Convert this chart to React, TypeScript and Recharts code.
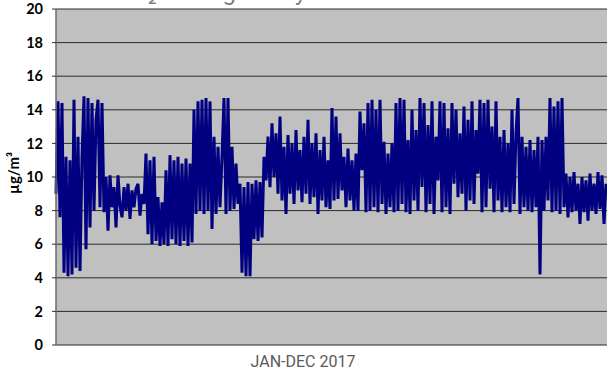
import React from 'react';
import { LineChart, Line, XAxis, YAxis, CartesianGrid } from 'recharts';

// Hourly concentration trace (Jan–Dec 2017), split by quarter
const q1Values = [
  9.0, 14.5, 7.6, 14.4, 4.3, 11.2, 4.1, 11.0, 4.2, 14.6,
  4.6, 12.4, 4.4, 11.2, 14.8, 5.7, 14.7, 7.0, 14.4, 8.0,
  13.4, 14.6, 8.2, 14.4, 7.9, 10.0, 6.8, 10.1, 8.2, 9.4,
  7.0, 10.1, 8.3, 7.6, 9.4, 8.0, 9.6, 7.5, 9.2, 8.2,
  9.3, 9.6, 7.7, 9.0, 8.4, 11.4, 6.6, 11.0, 6.0, 11.2,
  6.2, 8.8, 5.9, 8.5, 6.0, 10.4, 5.9, 11.3, 6.3, 11.0,
  6.0, 11.2, 5.9, 10.8, 6.2, 11.1, 5.9, 10.8, 6.1,
];
const q2Values = [
  14.0, 7.8, 14.5, 8.0, 14.6, 7.8, 14.7, 8.0, 14.5, 6.9,
  12.4, 7.8, 11.8, 8.2, 11.2, 14.7, 7.8, 14.7, 8.0, 11.8,
  8.1, 10.8, 8.4, 9.6, 4.3, 9.4, 4.1, 9.7, 4.1, 9.6,
  6.3, 9.8, 6.2, 9.7, 6.4, 11.2, 9.8, 12.4, 9.4, 13.2,
  10.0, 12.6, 9.0, 13.6, 8.6, 11.8, 7.8, 12.5, 9.0, 12.0,
  8.4, 12.8, 9.2, 11.6, 8.5, 12.4, 9.0, 13.4, 8.4, 12.0,
  8.8, 12.6, 7.8, 11.6, 8.6, 12.4, 8.2, 11.0, 8.1,
];
const q3Values = [
  14.1, 8.6, 13.6, 8.7, 12.6, 9.2, 11.2, 8.2, 11.7, 8.6,
  11.0, 8.0, 11.4, 8.0, 13.9, 10.4, 13.2, 7.9, 14.4, 8.0,
  14.6, 8.2, 14.0, 7.9, 14.6, 8.4, 12.1, 7.8, 11.4, 8.2,
  12.0, 7.9, 14.4, 8.0, 14.7, 8.4, 14.6, 7.9, 12.2, 7.8,
  14.0, 8.6, 12.8, 8.0, 14.7, 9.4, 14.4, 7.9, 13.1, 8.4,
  14.5, 7.8, 12.4, 9.8, 14.5, 7.9, 14.4, 8.2, 12.9, 7.8,
  14.4, 9.6, 14.0, 8.8, 12.6, 9.0, 14.2, 8.0, 13.4,
];
const q4Values = [
  8.6, 14.5, 8.4, 12.8, 10.2, 14.6, 7.9, 14.4, 8.2, 14.6,
  9.3, 13.0, 7.9, 14.5, 8.6, 12.4, 7.9, 12.8, 8.2, 12.0,
  7.9, 14.0, 8.4, 12.6, 14.7, 7.8, 12.4, 8.2, 11.8, 8.0,
  12.2, 7.9, 11.6, 8.2, 12.4, 4.2, 12.2, 8.0, 12.4, 8.6,
  14.7, 7.9, 14.2, 8.0, 14.5, 7.8, 14.7, 8.2, 10.2, 7.6,
  10.0, 7.9, 10.3, 8.0, 9.6, 7.2, 10.0, 7.9, 9.8, 7.4,
  10.2, 8.0, 9.6, 7.8, 10.3, 8.1, 10.1, 7.2, 9.6,
];

const yTicks = [0, 2, 4, 6, 8, 10, 12, 14, 16, 18, 20];
const titleText = 'NO₂ Average Daily Concentration';
const xLabel = 'JAN-DEC 2017';
const yLabel = 'µg/m³';

const allValues = [...q1Values, ...q2Values, ...q3Values, ...q4Values];
const data = allValues.map((v, i) => ({ i, v }));

export default function App() {
  return (
    <div
      style={{
        position: 'absolute',
        left: 0,
        top: 0,
        width: 607,
        height: 372,
        overflow: 'hidden',
        background: '#fff',
      }}
    >
      <LineChart
        width={608}
        height={372}
        data={data}
        margin={{ top: 9, right: 0, bottom: 27, left: 0 }}
      >
        <CartesianGrid
          horizontal={true}
          vertical={false}
          fill="#C0C0C0"
          stroke="#2a2a2a"
          strokeWidth={1}
        />
        <XAxis
          type="number"
          dataKey="i"
          domain={[0, allValues.length]}
          hide
        />
        <YAxis
          type="number"
          domain={[0, 20]}
          ticks={yTicks}
          width={56}
          interval={0}
          axisLine={{ stroke: '#6a6a6a', strokeWidth: 1.5 }}
          tickLine={{ stroke: '#333' }}
          tickSize={4}
          tickMargin={9}
          tick={{
            fill: '#000',
            fontSize: 14.5,
            fontWeight: 700,
            fontFamily: 'Lato, "Open Sans", sans-serif',
          }}
        />
        <Line
          type="linear"
          dataKey="v"
          stroke="#000080"
          strokeWidth={3}
          strokeLinejoin="miter"
          strokeMiterlimit={1.5}
          dot={false}
          isAnimationActive={false}
        />
      </LineChart>
      <svg
        width={607}
        height={372}
        style={{ position: 'absolute', left: 0, top: 0, pointerEvents: 'none' }}
      >
        <text
          x={114}
          y={0}
          fontSize={24}
          fill="#7f7f7f"
          fontFamily="Roboto, sans-serif"
        >
          {titleText}
        </text>
        <text
          x={0}
          y={0}
          transform="translate(19 173) rotate(-90)"
          textAnchor="middle"
          fontSize={15}
          fontWeight={700}
          fill="#000"
          fontFamily='Lato, "Open Sans", sans-serif'
        >
          {yLabel}
        </text>
        <text
          x={303}
          y={367}
          textAnchor="middle"
          fontSize={16}
          fill="#5a5a5a"
          fontFamily="Roboto, sans-serif"
        >
          {xLabel}
        </text>
      </svg>
    </div>
  );
}
